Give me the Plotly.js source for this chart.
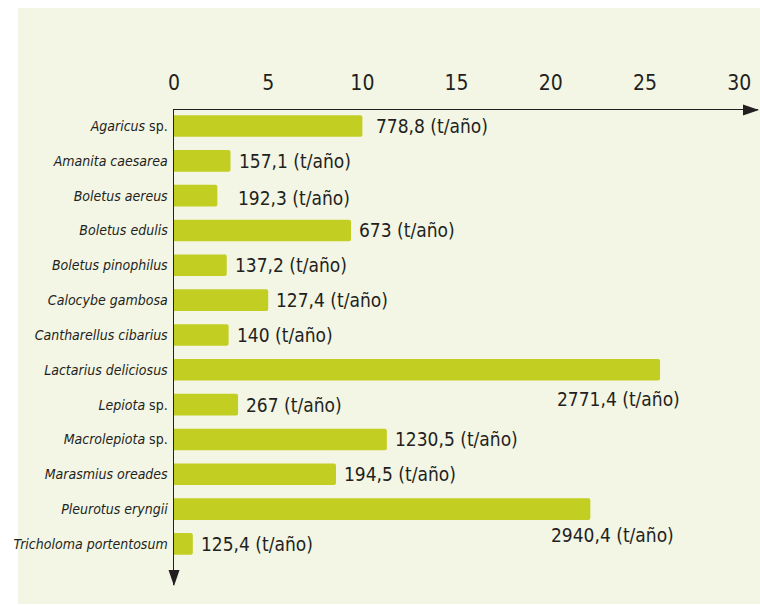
<!DOCTYPE html>
<html>
<head>
<meta charset="utf-8">
<script src="https://cdn.plot.ly/plotly-3.0.1.min.js"></script>
<style>
  html, body { margin: 0; padding: 0; background: #ffffff; width: 760px; height: 605px; overflow: hidden; }
  #chart { position: absolute; left: 0; top: 0; width: 760px; height: 605px; }
</style>
</head>
<body>
<div id="chart"></div>
<script>
// ---- data ----
const species = [
  "<i>Agaricus</i> sp.",
  "<i>Amanita caesarea</i>",
  "<i>Boletus aereus</i>",
  "<i>Boletus edulis</i>",
  "<i>Boletus pinophilus</i>",
  "<i>Calocybe gambosa</i>",
  "<i>Cantharellus cibarius</i>",
  "<i>Lactarius deliciosus</i>",
  "<i>Lepiota</i> sp.",
  "<i>Macrolepiota</i> sp.",
  "<i>Marasmius oreades</i>",
  "<i>Pleurotus eryngii</i>",
  "<i>Tricholoma portentosum</i>"
];
const barValues = [10.0, 3.0, 2.3, 9.4, 2.8, 5.0, 2.9, 25.8, 3.4, 11.3, 8.6, 22.1, 1.0];
const production = ["778,8", "157,1", "192,3", "673", "137,2", "127,4", "140", "2771,4", "267", "1230,5", "194,5", "2940,4", "125,4"];
const unitSuffix = " (t/año)";
const xTicks = [0, 5, 10, 15, 20, 25, 30];

// ---- styles ----
const INK = "#231f20";
const BAR = "#c3ce22";
const BG = "#f3f6e5";
const FONT = "'Liberation Sans Narrow', 'Arial Narrow', 'DejaVu Sans Condensed', sans-serif";
// per-label placement tweaks (style only)
const labelPlace = {
  0: {dx: 12, dy: 0},
  2: {dx: 19, dy: -2},
  7: {dx: 22, dy: -29, anchor: "right"},
  11: {dx: 86, dy: -26, anchor: "right"}
};

const trace = {
  type: "bar",
  orientation: "h",
  y: species,
  x: barValues,
  width: 0.62,
  marker: {color: BAR, cornerradius: 2, line: {width: 0}},
  hoverinfo: "none"
};

const annotations = species.map((s, i) => {
  const p = labelPlace[i] || {dx: 6, dy: 0};
  return {
    x: barValues[i], y: s, xref: "x", yref: "y",
    text: production[i] + unitSuffix,
    showarrow: false,
    xanchor: p.anchor || "left", yanchor: "middle",
    xshift: p.dx, yshift: p.dy,
    font: {family: FONT, size: 19, color: INK}
  };
});

const shapes = [
  // cream panel behind the chart
  {type: "rect", xref: "paper", yref: "paper", layer: "below",
   x0: -0.2671, x1: 1.01, y0: -0.04, y1: 1.2147,
   fillcolor: BG, line: {width: 0}},
  // arrowhead on x axis (right end)
  {type: "path", xref: "paper", yref: "paper", xsizemode: "pixel", ysizemode: "pixel",
   xanchor: 1, yanchor: 1, path: "M1,0 L-15,5.5 L-15,-5.5 Z",
   fillcolor: INK, line: {width: 0}},
  // arrowhead on y axis (bottom end)
  {type: "path", xref: "paper", yref: "paper", xsizemode: "pixel", ysizemode: "pixel",
   xanchor: 0, yanchor: 0, path: "M0,-1 L-5.5,15 L5.5,15 Z",
   fillcolor: INK, line: {width: 0}}
];

const layout = {
  width: 760, height: 605,
  margin: {l: 174, r: 2, t: 110, b: 20, pad: 0},
  paper_bgcolor: "#ffffff", plot_bgcolor: "rgba(0,0,0,0)",
  showlegend: false,
  font: {family: FONT, color: INK},
  xaxis: {
    side: "top",
    range: [0, 31],
    tickmode: "array", tickvals: xTicks, ticktext: xTicks.map(String),
    showgrid: false, zeroline: false,
    showline: true, linecolor: INK, linewidth: 1.5,
    ticks: "", ticklabelstandoff: 10,
    tickfont: {family: FONT, size: 21, color: INK},
    fixedrange: true
  },
  yaxis: {
    type: "category",
    range: [13.18, -0.46],
    showgrid: false, zeroline: false,
    showline: true, linecolor: INK, linewidth: 1.5,
    ticks: "", ticklabelstandoff: 2,
    tickfont: {family: FONT, size: 14, color: INK},
    fixedrange: true
  },
  annotations: annotations,
  shapes: shapes
};

Plotly.newPlot("chart", [trace], layout, {displayModeBar: false, staticPlot: true});
</script>
</body>
</html>
